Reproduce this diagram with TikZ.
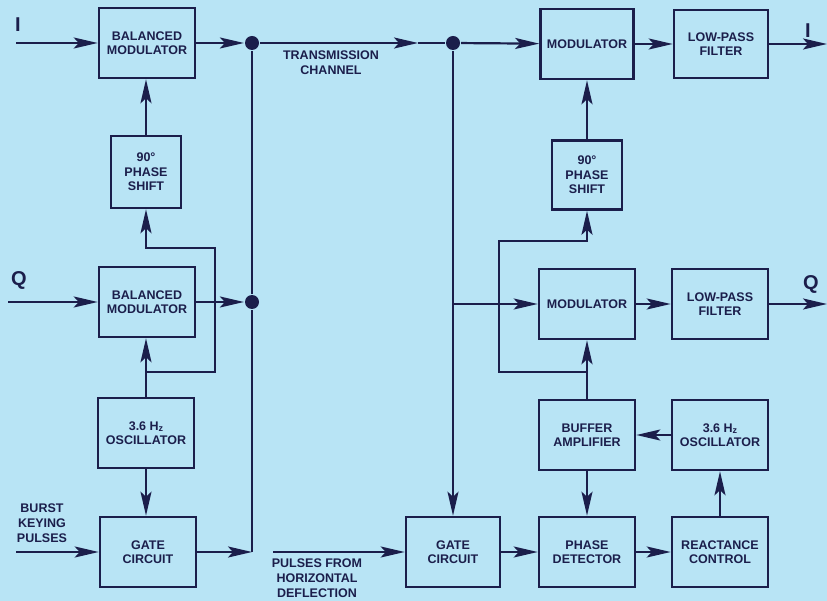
\documentclass[tikz,border=0pt]{standalone}
\usepackage{fontspec}
\setmainfont{Liberation Sans}
\usetikzlibrary{arrows.meta}
\definecolor{paper}{RGB}{184,228,245}
\definecolor{ink}{RGB}{27,30,75}
\newcommand{\hz}{H\raisebox{-1.2pt}{\small z}}
\begin{document}
\begin{tikzpicture}[x=1pt,y=-1pt,>={Stealth[length=24pt,width=11pt,inset=5pt]},font=\bfseries\fontsize{12.5}{14.5}\selectfont,
    line width=2.2pt,draw=ink,text=ink]
      \tikzset{box/.style={draw=ink, line width=2.6pt, minimum width=96pt, minimum height=70pt, align=center, inner sep=1pt},
               psbox/.style={box, minimum width=70pt, minimum height=72pt},
               dot/.style={circle, fill=ink, inner sep=0pt, minimum size=14pt},
               sig/.style={font=\bfseries\fontsize{20}{20}\selectfont},
               note/.style={align=center, font=\bfseries\fontsize{12.5}{14.8}\selectfont}}
      \fill[paper] (0,0) rectangle (827,601);
      \useasboundingbox (0,0) rectangle (827,601);

      % transmitter
      \node[box] (bmI) at (147,43) {BALANCED\\MODULATOR};
      \node[psbox] (psL) at (146,172) {90°\\PHASE\\SHIFT};
      \node[box] (bmQ) at (147,302) {BALANCED\\MODULATOR};
      \node[box] (oscL) at (146,433) {3.6 \hz\\OSCILLATOR};
      \node[box] (gateL) at (148,552) {GATE\\CIRCUIT};
      \node[dot] (dotI) at (252,43) {};
      \node[dot] (dotQ) at (252,302) {};
      \node[sig] (lblI) at (18,25) {I};
      \node[sig] (lblQ) at (19,280) {Q};
      \node[note] (burst) at (42,523) {BURST\\KEYING\\PULSES};
      \node[note] (chan) at (331,63) {TRANSMISSION\\CHANNEL};
      \coordinate (inI) at (16,43);
      \coordinate (inQ) at (8,302);
      \coordinate (inB) at (16,552);
      \coordinate (cornL) at (252,552);
      \coordinate (splitL) at (146,372);
      \coordinate (turnL) at (146,248);
      \coordinate (chArr) at (418,43);

      \draw[->] (inI) -- (bmI);
      \draw[->] (inQ) -- (bmQ);
      \draw[->] (inB) -- (gateL);
      \draw[->] (bmI) -- (dotI);
      \draw[->] (bmQ) -- (dotQ);
      \draw[->] (psL) -- (bmI.south -| psL);
      \draw (oscL) -- (splitL);
      \draw[->] (splitL) -- (bmQ.south -| splitL);
      \draw[->] (splitL) -- ++(69,0) |- (turnL) -- (psL);
      \draw[->] (oscL) -- (gateL.north -| oscL);
      \draw[->] (gateL) -- (cornL);
      \draw (cornL) -- (dotQ) -- (dotI);
      \draw[->] (dotI) -- (chArr);

      % receiver
      \node[dot] (dotR) at (453,43) {};
      \node[box, minimum width=93pt] (modI) at (587,44) {MODULATOR};
      \node[box, minimum width=94pt, minimum height=68pt] (lpfI) at (721,44) {LOW-PASS\\FILTER};
      \node[psbox, minimum height=69pt] (psR) at (587,175) {90°\\PHASE\\SHIFT};
      \node[box] (modQ) at (587,304) {MODULATOR};
      \node[box] (lpfQ) at (720,304) {LOW-PASS\\FILTER};
      \node[box] (buf) at (587,435) {BUFFER\\AMPLIFIER};
      \node[box] (oscR) at (720,435) {3.6 \hz\\OSCILLATOR};
      \node[box, minimum width=94pt] (gateR) at (453,552) {GATE\\CIRCUIT};
      \node[box] (pd) at (587,552) {PHASE\\DETECTOR};
      \node[box] (rc) at (720,552) {REACTANCE\\CONTROL};
      \node[sig] (outlblI) at (808,31) {I};
      \node[sig] (outlblQ) at (811,284) {Q};
      \node[note] (hor) at (317,578) {PULSES FROM\\HORIZONTAL\\DEFLECTION};
      \coordinate (outI) at (827,44);
      \coordinate (outQ) at (827,304);
      \coordinate (inP) at (273,552);
      \coordinate (tapQ) at (453,304);
      \coordinate (splitR) at (587,372);
      \coordinate (turnR) at (587,241);

      \draw (chArr) -- (dotR);
      \draw[->] (dotR) -- (modI);
      \draw[->] (modI) -- (lpfI);
      \draw[->] (lpfI) -- (outI);
      \draw[->] (dotR) -- (gateR);
      \draw[->] (tapQ) -- (modQ);
      \draw[->] (modQ) -- (lpfQ);
      \draw[->] (lpfQ) -- (outQ);
      \draw[->] (psR) -- (modI);
      \draw (buf) -- (splitR);
      \draw[->] (splitR) -- (modQ);
      \draw[->] (splitR) -- ++(-88,0) |- (turnR) -- (psR);
      \draw[->] (oscR) -- (buf);
      \draw[->] (buf) -- (pd);
      \draw[->] (pd) -- (rc);
      \draw[->] (rc) -- (oscR);
      \draw[->] (inP) -- (gateR);
      \draw[->] (gateR) -- (pd);
    \end{tikzpicture}
\end{document}
